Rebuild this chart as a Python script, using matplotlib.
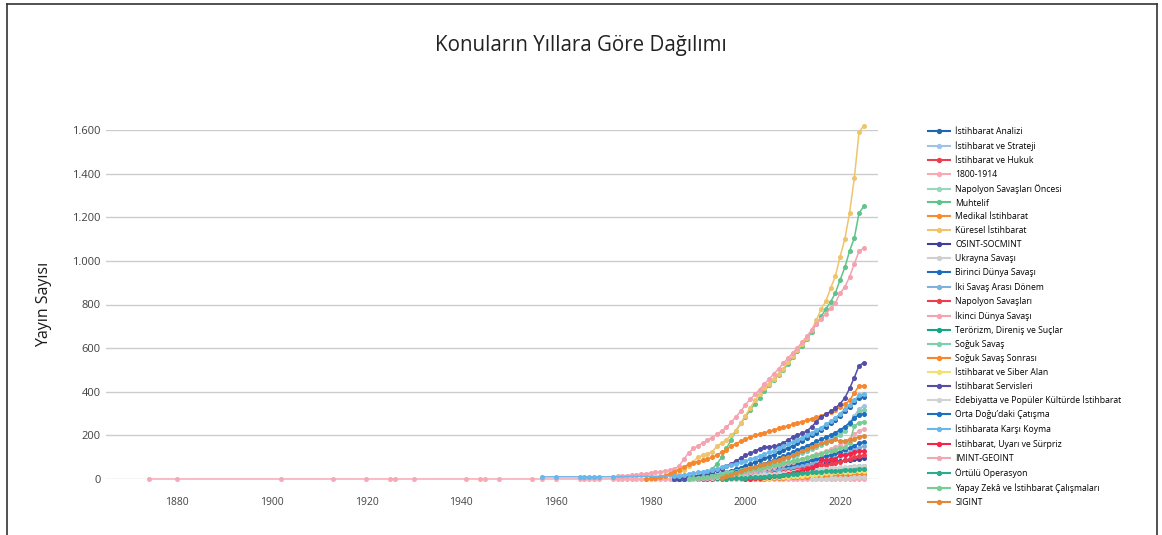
import numpy as np
import matplotlib.pyplot as plt
from matplotlib.lines import Line2D

plt.rcParams["font.family"] = ["Open Sans", "DejaVu Sans"]

# =====================================
# VERI (yillik kumulatif yayin sayisi)
# =====================================
yillar = list(range(1985, 2026))

istihbarat_analizi = [0, 1, 2, 4, 6, 8, 11, 14, 18, 22, 27, 32, 38, 45, 52, 60, 68, 76, 85, 94,
                      103, 112, 122, 132, 142, 152, 163, 175, 188, 200, 212, 225, 240, 255, 272,
                      290, 310, 330, 352, 372, 378]
istihbarat_strateji = [0, 0, 1, 2, 3, 5, 7, 9, 12, 15, 18, 22, 26, 30, 35, 40, 45, 50, 56, 62,
                       68, 75, 82, 89, 96, 104, 112, 120, 130, 140, 150, 160, 172, 185, 200,
                       215, 235, 260, 290, 320, 335]
istihbarat_hukuk = [None] * 15 + [1, 1, 2, 2, 3, 3, 4, 4, 5, 5, 6, 7, 7, 8, 9, 10, 11, 12, 13, 14,
                                  15, 16, 16, 17, 18, 18]
erken_1800_yil = [1874, 1880, 1902, 1913, 1920, 1925, 1926, 1930, 1941, 1944, 1945, 1948, 1955,
                  1957, 1960, 1965, 1966, 1967, 1968, 1969, 1972, 1973, 1974, 1975, 1976, 1977,
                  1978, 1979, 1980, 1981, 1982, 1983, 1984]
erken_1800 = [0] * 33
donem_1800_1914 = [0, 0, 0, 0, 0, 0, 0, 0, 0, 0, 0, 0, 0, 0, 0, 0, 0, 0, 0, 0,
                   0, 0, 0, 0, 0, 1, 1, 1, 1, 1, 1, 1, 1, 1, 1, 1, 1, 1, 1, 1, 1]
napolyon_oncesi = [None] * 8 + [1, 2, 3, 4, 5, 6, 7, 8, 9, 10, 11, 12, 13, 14, 15, 16, 17,
                                18, 19, 20, 21, 22, 23, 24, 25, 26, 26, 27, 28, 28, 29, 30, 30]
muhtelif = [2, 4, 6, 9, 12, 16, 22, 30, 45, 70, 100, 140, 180, 220, 255, 285, 315, 345, 372, 405,
            430, 455, 478, 500, 528, 558, 585, 612, 640, 675, 712, 745, 780, 812, 853,
            913, 970, 1045, 1105, 1220, 1250]
medikal = [None] * 18 + [1, 2, 3, 4, 5, 6, 7, 8, 9, 10, 11, 12, 13, 14, 15, 16, 17,
                         18, 20, 22, 23, 24, 25]
kuresel = [15, 25, 40, 60, 80, 100, 108, 116, 125, 150, 165, 180, 200, 222, 255, 290, 325, 360,
           390, 415, 435, 460, 480, 505, 535, 565, 592, 618, 648, 685, 728, 780, 815, 875, 930,
           1020, 1100, 1220, 1380, 1590, 1620]
osint = [0, 1, 2, 3, 4, 6, 8, 10, 12, 14, 17, 20, 23, 26, 29, 32, 34, 37, 40, 42, 45, 47, 50, 52,
         55, 57, 60, 62, 65, 67, 70, 72, 75, 77, 80, 82, 85, 87, 90, 93, 95]
ukrayna = [None] * 29 + [1, 1, 2, 2, 3, 3, 4, 5, 6, 8, 9, 10]
birinci_dunya = [0, 1, 2, 3, 4, 5, 6, 8, 10, 12, 14, 16, 18, 21, 24, 27, 30, 33, 36, 40,
                 44, 48, 52, 56, 60, 65, 70, 75, 80, 86, 92, 98, 104, 111, 118,
                 126, 134, 143, 152, 164, 171]
iki_savas_arasi = [None] * 3 + [1, 2, 3, 4, 5, 6, 7, 9, 11, 13, 15, 17, 19, 21, 24, 27, 30,
                                33, 36, 40, 44, 48, 52, 56, 60, 64, 69, 74, 79, 85, 91, 98,
                                105, 113, 122, 132, 143, 151]
napolyon = [None] * 7 + [1, 2, 3, 4, 5, 6, 8, 10, 12, 14, 16, 18, 20, 23, 26, 29, 32, 35,
                         38, 42, 46, 50, 54, 58, 62, 66, 70, 75, 80, 86, 92, 100, 106, 110]
erken_ikinci_yil = list(range(1972, 1985))
erken_ikinci = [10, 12, 14, 16, 18, 20, 22, 24, 27, 30, 33, 36, 40]
ikinci_dunya = [45, 60, 90, 120, 140, 152, 165, 178, 190, 205, 220, 238, 260, 285, 310,
                340, 365, 388, 410, 435, 458, 482, 505, 530, 555, 578, 602, 628, 655, 682,
                710, 735, 758, 782, 807, 853, 880, 927, 986, 1045, 1058]
terorizm = [None] * 5 + [1, 2, 3, 4, 5, 6, 7, 8, 9, 10, 11, 12, 14, 16, 18, 20, 22, 24, 26,
                         28, 30, 32, 34, 36, 38, 40, 42, 44, 46, 48, 50, 52, 54, 56, 58, 60]
soguk_savas = [2, 4, 6, 8, 10, 12, 14, 17, 20, 23, 26, 30, 34, 38, 42, 47, 52, 57, 62, 68,
               74, 80, 86, 93, 100, 107, 114, 122, 130, 138, 147, 156, 166, 176, 188,
               200, 220, 250, 280, 305, 317]
erken_sonrasi_yil = [1979, 1980, 1981, 1982, 1983, 1984]
erken_sonrasi = [0, 3, 6, 10, 16, 24]
soguk_savas_sonrasi = [33, 42, 55, 68, 75, 80, 85, 92, 100, 110, 122, 135, 150, 162, 172,
                       182, 192, 200, 206, 212, 218, 225, 232, 238, 244, 250, 257, 263, 270,
                       277, 283, 290, 298, 307, 318, 330, 342, 360, 395, 427, 427]
siber = [None] * 15 + [1, 2, 3, 4, 5, 6, 7, 8, 9, 10, 12, 14, 16, 18, 20, 22, 24, 26, 28, 30,
                       31, 32, 33, 35, 36, 37]
servisler = [0, 2, 5, 8, 12, 16, 20, 25, 32, 40, 48, 58, 70, 82, 95, 108, 118, 128, 138, 146,
             148, 150, 155, 165, 178, 192, 202, 210, 220, 240, 262, 285, 297, 310, 325,
             345, 372, 415, 465, 520, 533]
edebiyat = [None] * 3 + [1, 2, 3, 4, 5, 6, 7, 8, 9, 10, 11, 12, 13, 15, 17, 19, 21, 23, 25,
                         27, 29, 31, 33, 35, 37, 39, 41, 43, 45, 47, 49, 51, 53, 55, 56, 58,
                         59, 60]
orta_dogu = [None] * 5 + [2, 4, 6, 9, 12, 16, 20, 25, 30, 36, 42, 48, 55, 62, 70, 78, 86, 95,
                          104, 113, 122, 132, 142, 152, 162, 172, 182, 192, 202, 213, 225,
                          240, 258, 278, 295, 300]
erken_karsi_yil = [1957, 1960, 1965, 1966, 1967, 1968, 1969, 1972]
erken_karsi = [10, 10, 10, 10, 10, 10, 10, 10]
karsi_koyma = [14, 16, 19, 22, 26, 30, 34, 38, 43, 48, 53, 58, 64, 70, 76, 82, 90, 98, 106, 114,
               122, 130, 140, 150, 160, 170, 180, 190, 200, 212, 224, 236, 250, 265, 280,
               300, 320, 340, 360, 385, 390]
uyari_surpriz = [None] * 15 + [1, 2, 4, 6, 8, 10, 13, 16, 20, 24, 28, 33, 38, 44, 52,
                               62, 85, 88, 90, 92, 110, 112, 115, 125, 128, 130]
imint = [None] * 5 + [1, 3, 5, 7, 9, 12, 15, 18, 21, 25, 29, 33, 37, 42, 47, 52, 57, 62, 68,
                      74, 80, 86, 92, 99, 106, 113, 120, 128, 136, 145, 155, 168, 185, 205,
                      220, 228]
ortulu = [None] * 10 + [1, 2, 3, 4, 5, 6, 7, 8, 9, 10, 12, 14, 16, 18, 20, 22, 24, 26, 28, 30,
                        32, 34, 35, 36, 37, 38, 40, 41, 43, 44, 45]
yapay_zeka = [None] * 3 + [2, 4, 6, 8, 10, 12, 15, 18, 21, 24, 28, 32, 36, 40, 44, 48, 53,
                           58, 63, 68, 73, 78, 83, 88, 93, 98, 104, 110, 116, 122, 128, 134,
                           140, 146, 165, 245, 258, 263]
sigint = [None] * 10 + [5, 12, 20, 28, 36, 44, 50, 56, 62, 68, 75, 82, 88, 95, 102, 110, 118,
                        127, 136, 145, 155, 163, 170, 176, 182, 172, 176, 180, 185, 194, 198]

konular = ["İstihbarat Analizi", "İstihbarat ve Strateji", "İstihbarat ve Hukuk", "1800-1914",
           "Napolyon Savaşları Öncesi", "Muhtelif", "Medikal İstihbarat", "Küresel İstihbarat",
           "OSINT-SOCMINT", "Ukrayna Savaşı", "Birinci Dünya Savaşı", "İki Savaş Arası Dönem",
           "Napolyon Savaşları", "İkinci Dünya Savaşı", "Terörizm, Direniş ve Suçlar",
           "Soğuk Savaş", "Soğuk Savaş Sonrası", "İstihbarat ve Siber Alan",
           "İstihbarat Servisleri", "Edebiyatta ve Popüler Kültürde İstihbarat",
           "Orta Doğu’daki Çatışma", "İstihbarata Karşı Koyma", "İstihbarat, Uyarı ve Sürpriz",
           "IMINT-GEOINT", "Örtülü Operasyon", "Yapay Zekâ ve İstihbarat Çalışmaları", "SIGINT"]

renkler = ["#2166b0", "#9dc3e6", "#e8404f", "#f7a9b4", "#95d9bd", "#5fc48a", "#f68b30",
           "#f0c46c", "#3f3f9a", "#cfcfcf", "#1f6cbf", "#7eb1dc", "#ee3d4f", "#f4a3b0",
           "#17a483", "#7dd0ab", "#f7862c", "#f1e073", "#544ea6", "#d2d2d2", "#1e6fc0",
           "#6ab7ea", "#f5244a", "#eea9b6", "#29ad8c", "#7acc93", "#e0893b"]

degerler = [istihbarat_analizi, istihbarat_strateji, istihbarat_hukuk, donem_1800_1914,
            napolyon_oncesi, muhtelif, medikal, kuresel, osint, ukrayna, birinci_dunya,
            iki_savas_arasi, napolyon, ikinci_dunya, terorizm, soguk_savas,
            soguk_savas_sonrasi, siber, servisler, edebiyat, orta_dogu, karsi_koyma,
            uyari_surpriz, imint, ortulu, yapay_zeka, sigint]

# erken yillar (1985 oncesi)
erken = {
    "1800-1914": (erken_1800_yil, erken_1800),
    "İkinci Dünya Savaşı": (erken_ikinci_yil, erken_ikinci),
    "Soğuk Savaş Sonrası": (erken_sonrasi_yil, erken_sonrasi),
    "İstihbarata Karşı Koyma": (erken_karsi_yil, erken_karsi),
}

# =====================================
# GRAFIK
# =====================================
fig = plt.figure(figsize=(11.62, 5.35), dpi=100)
ax = fig.add_axes([106 / 1162, 1 - 479 / 535, 772 / 1162, 349 / 535])

for ad, renk, seri in zip(konular, renkler, degerler):
    x = list(yillar)
    y = [np.nan if v is None else v for v in seri]
    if ad in erken:
        x = list(erken[ad][0]) + x
        y = list(erken[ad][1]) + y
    ax.plot(x, y, color=renk, lw=1.1, marker="o", ms=2.6, label=ad,
            clip_on=False, zorder=3)

ax.set_xlim(1865, 2028)
ax.set_ylim(0, 1600)
ax.set_yticks(range(0, 1601, 200))
ax.set_yticklabels([f"{v:,}".replace(",", ".") for v in range(0, 1601, 200)],
                   fontsize=8, color="#404040")
ax.set_xticks(range(1880, 2021, 20))
ax.set_xticklabels([str(v) for v in range(1880, 2021, 20)], fontsize=7.5, color="#444444")
ax.tick_params(axis="both", length=0)
ax.tick_params(axis="y", pad=4)
ax.tick_params(axis="x", pad=13)
ax.grid(axis="y", color="#cccccc", lw=1)
ax.set_axisbelow(True)
for s in ax.spines.values():
    s.set_visible(False)

ax.set_ylabel("Yayın Sayısı", fontsize=11.5, color="#1a1a1a")
ax.yaxis.set_label_coords(-0.07, 0.5)
fig.text(0.5, 1 - 45 / 535, "Konuların Yıllara Göre Dağılımı", ha="center", va="center",
         fontsize=14.8, color="#222222")

# lejant
tutucular = [Line2D([0], [0], color=r, lw=1.5, marker="o", ms=2.8) for r in renkler]
fig.legend(tutucular, konular, loc="upper left", bbox_to_anchor=(928 / 1162, 1 - 127 / 535),
           frameon=False, fontsize=6.2, handlelength=2.55, handletextpad=0.6,
           labelspacing=0.575, borderpad=0, borderaxespad=0)

# cerceve
cerceve = dict(color="#333333", lw=1.2, transform=fig.transFigure)
fig.add_artist(Line2D([7 / 1162, 7 / 1162], [0, 1 - 4 / 535], **cerceve))
fig.add_artist(Line2D([7 / 1162, 1157 / 1162], [1 - 4 / 535, 1 - 4 / 535], **cerceve))
fig.add_artist(Line2D([1157 / 1162, 1157 / 1162], [0, 1 - 4 / 535], **cerceve))

fig.savefig("out.png", dpi=100)
